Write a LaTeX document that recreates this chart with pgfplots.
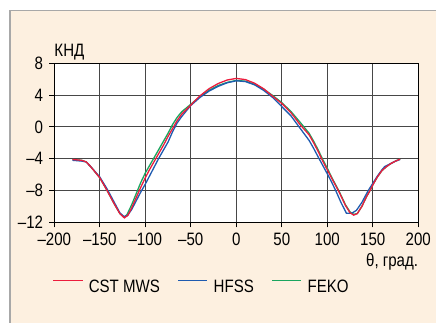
\documentclass[border=0pt]{standalone}
\usepackage{fontspec}
\setmainfont[FakeStretch=0.84]{Liberation Sans}
\usepackage{pgfplots}
\pgfplotsset{compat=1.18}
\definecolor{cstred}{HTML}{EC1C3C}
\definecolor{hfssblue}{HTML}{1E5BB0}
\definecolor{fekogreen}{HTML}{1AA55F}
\definecolor{cream}{HTML}{FDF0E0}
\definecolor{bordergray}{HTML}{A8A8A8}
\begin{document}
\begin{tikzpicture}[font=\fontsize{18}{21}\selectfont]
\useasboundingbox (0,0) rectangle (436bp,323bp);
\fill[white] (0,0) rectangle (436bp,323bp);
\fill[cream] (11bp,0) rectangle (436bp,312bp);
\draw[bordergray, line width=1.8bp] (10.3bp,0) -- (10.3bp,312.5bp) -- (436bp,312.5bp);
\begin{axis}[
  at={(54.3bp,100.7bp)}, anchor=south west,
  scale only axis, width=364bp, height=159bp,
  xmin=-200, xmax=200, ymin=-12, ymax=8,
  xtick={-200,-150,...,200}, ytick={-12,-8,...,8},
  xticklabels={–200,–150,–100,–50,0,50,100,150,200},
  yticklabels={–12,–8,–4,0,4,8},
  axis background/.style={fill=white},
  grid=major, major grid style={draw=black!72, line width=0.9bp},
  axis line style={line width=1bp, black},
  tick pos=left, tick align=outside, major tick length=5bp,
  tick style={black, line width=0.9bp},
  xticklabel style={inner sep=0pt, anchor=north, yshift=-5.5bp},
  yticklabel style={inner sep=0pt, anchor=east, xshift=-6bp},
  legend columns=3,
  legend style={at={(-0.0055,-0.404)}, anchor=west, draw=none, fill=none,
    inner sep=0pt, nodes={inner sep=0pt},
    /tikz/every odd column/.append style={column sep=5.6bp},
    /tikz/every even column/.append style={column sep=17.5bp}},
  legend image code/.code={\draw[#1, line width=1.3bp] (0bp,6.3bp) -- (29.4bp,6.3bp);},
  clip=false,
]
\addlegendimage{cstred}\addlegendentry{CST MWS}
\addlegendimage{hfssblue}\addlegendentry{HFSS}
\addlegendimage{fekogreen}\addlegendentry{FEKO}

% FEKO
\addplot[fekogreen, line width=1.3bp, forget plot] coordinates {
(-180,-4.1) (-170,-4.2) (-165,-4.4) (-160,-5.0) (-150,-6.4) (-142,-8.0) (-135,-9.5)
(-128,-10.9) (-123,-11.35) (-120,-11.0) (-115,-9.8) (-110,-8.4) (-105,-7.0) (-100,-5.8)
(-95,-4.8) (-90,-3.8) (-85,-2.8) (-80,-1.8) (-75,-0.8) (-70,0.3) (-65,1.2) (-60,1.9) (-50,2.85) (-40,3.8)
(-30,4.6) (-20,5.2) (-10,5.6) (0,5.85) (10,5.75) (20,5.35) (30,4.75) (40,3.95) (50,3.05)
(60,1.95) (70,0.6) (80,-0.8) (85,-1.8) (90,-2.9) (95,-4.1) (100,-5.2) (106,-6.6) (113,-8.1)
(120,-9.8) (125,-10.7) (129,-11.0) (133,-10.9) (138,-10.0) (143,-8.8) (147,-8.0) (150,-7.3)
(155,-6.3) (160,-5.5) (165,-5.0) (170,-4.6) (175,-4.3) (180,-4.05)
};
% HFSS
\addplot[hfssblue, line width=1.3bp, forget plot] coordinates {
(-180,-4.2) (-170,-4.3) (-165,-4.4) (-160,-5.0) (-150,-6.3) (-142,-7.8) (-135,-9.3)
(-128,-10.8) (-124,-11.25) (-120,-11.2) (-115,-10.4) (-110,-9.3) (-105,-8.2) (-100,-7.2)
(-95,-6.1) (-90,-5.0) (-85,-3.9) (-80,-2.9) (-75,-1.9) (-70,-0.6) (-65,0.5) (-60,1.3) (-50,2.7) (-40,3.7)
(-30,4.5) (-20,5.1) (-10,5.55) (0,5.8) (10,5.7) (20,5.3) (30,4.6) (40,3.7) (50,2.55)
(60,1.4) (69,0.0) (80,-1.7) (85,-2.7) (91,-4.0) (100,-5.9) (105,-7.0) (110,-8.2)
(115,-9.5) (121,-10.85) (127,-10.85) (132,-10.5) (138,-9.5) (145,-8.0) (150,-7.1)
(155,-6.2) (160,-5.4) (163,-5.0) (170,-4.6) (175,-4.3) (180,-4.1)
};
% CST MWS
\addplot[cstred, line width=1.3bp, forget plot] coordinates {
(-180,-4.1) (-170,-4.2) (-165,-4.4) (-160,-5.0) (-150,-6.4) (-142,-8.0) (-135,-9.5)
(-128,-10.9) (-123,-11.45) (-119,-11.1) (-115,-10.2) (-110,-8.9) (-105,-7.6) (-100,-6.4)
(-95,-5.3) (-90,-4.3) (-85,-3.3) (-80,-2.3) (-75,-1.2) (-70,-0.2) (-65,0.8) (-60,1.6) (-50,2.75) (-40,3.9)
(-30,4.8) (-20,5.45) (-10,5.9) (0,6.1) (10,5.95) (20,5.5) (30,4.8) (40,3.85) (50,2.95)
(60,1.8) (70,0.3) (80,-1.0) (85,-2.0) (90,-3.1) (95,-4.3) (100,-5.4) (106,-6.7) (113,-8.2)
(120,-9.9) (125,-10.8) (129,-11.1) (133,-10.9) (138,-10.0) (143,-8.8) (147,-8.0) (150,-7.3)
(155,-6.3) (160,-5.5) (165,-5.0) (170,-4.6) (175,-4.3) (180,-4.05)
};
\node[anchor=base west, inner sep=0pt] at (axis description cs:0,1.0415) {КНД};
\node[anchor=base east, inner sep=0pt] at (axis description cs:1,-0.279) {θ, град.};
\end{axis}
\end{tikzpicture}
\end{document}
